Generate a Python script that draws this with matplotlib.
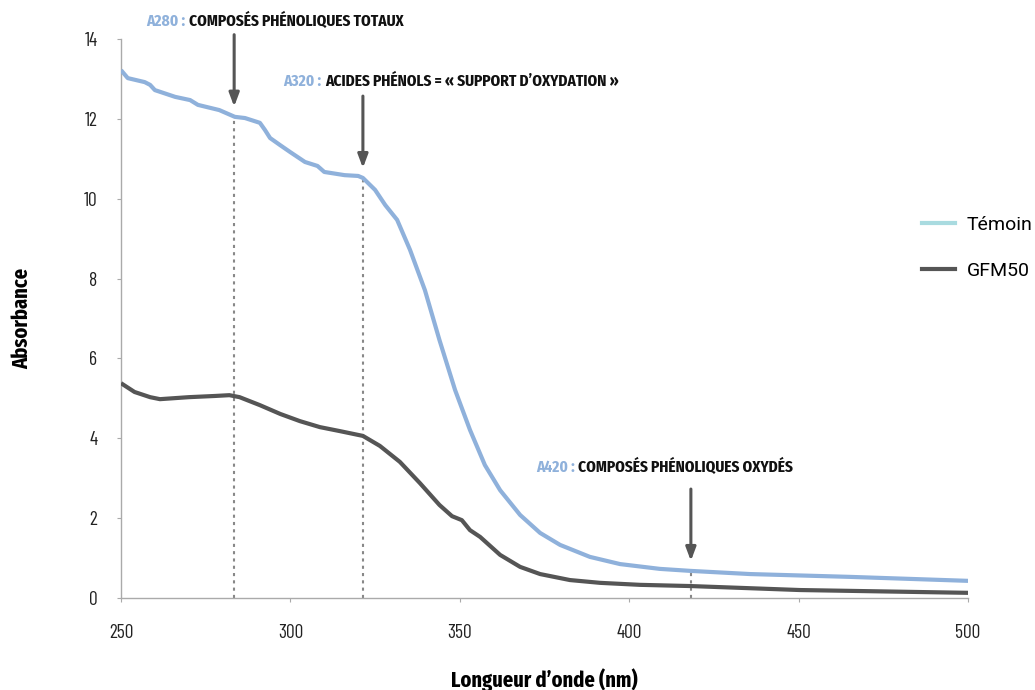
import matplotlib
matplotlib.use("Agg")
import matplotlib.pyplot as plt
from matplotlib import font_manager as fm
from matplotlib.lines import Line2D
import numpy as np

# Témoin (control) absorbance spectrum
temoin_nm = [250, 252, 257, 258.6, 260, 266, 270.4, 272.7, 279, 283.6, 286.6, 291,
             292.5, 294, 297, 299.9, 304.3, 308, 310, 316, 320, 321.4, 325, 328,
             331.5, 335.3, 339.7, 344, 348.6, 353, 357.4, 361.9, 367.8, 373.7,
             379.6, 388.4, 397.3, 409, 418, 435.7, 465, 500]
temoin_abs = [13.22, 13.02, 12.92, 12.85, 12.72, 12.55, 12.47, 12.35, 12.22, 12.05,
              12.02, 11.9, 11.72, 11.52, 11.34, 11.17, 10.92, 10.82, 10.67, 10.59,
              10.57, 10.52, 10.22, 9.84, 9.47, 8.72, 7.71, 6.46, 5.21, 4.21, 3.33,
              2.70, 2.08, 1.63, 1.33, 1.03, 0.85, 0.73, 0.68, 0.60, 0.53, 0.43]

# GFM50 absorbance spectrum
gfm_nm = [250, 254, 258.6, 261.5, 270, 277.7, 282, 285, 291, 297, 302.8, 308.7,
          314.6, 321.4, 326.4, 332.3, 338.2, 344, 347.7, 350.6, 353, 356, 361.9,
          367.8, 373.7, 382.5, 391.4, 403.2, 418, 450.4, 500]
gfm_abs = [5.38, 5.16, 5.03, 4.98, 5.03, 5.06, 5.08, 5.03, 4.83, 4.61, 4.43, 4.28,
           4.18, 4.06, 3.81, 3.41, 2.88, 2.33, 2.05, 1.95, 1.70, 1.53, 1.08, 0.78,
           0.60, 0.45, 0.38, 0.33, 0.30, 0.20, 0.13]

# annotated wavelengths
marks_nm = [283.4, 321.4, 418.2]
mark_codes = ["A280 : ", "A320 : ", "A420 : "]
mark_texts = ["COMPOSÉS PHÉNOLIQUES TOTAUX",
              "ACIDES PHÉNOLS = « SUPPORT D’OXYDATION »",
              "COMPOSÉS PHÉNOLIQUES OXYDÉS"]
label_x = [257.5, 298.0, 372.5]
label_y = [14.45, 12.95, 3.28]

BLUE = "#8fb1db"
DARK = "#555555"
AXIS = "#aaaaaa"

installed = {f.name for f in fm.fontManager.ttflist}


def pick(*names):
    fams = [n for n in names if n in installed]
    return fams + ["DejaVu Sans"]


TICK_FONT = pick("Barlow Condensed", "Fira Sans Extra Condensed", "Oswald")
BOLD_FONT = pick("Fira Sans Extra Condensed", "Barlow Condensed", "Oswald")
LEG_FONT = pick("Roboto", "Inter")

fig = plt.figure(figsize=(10.35, 6.9), dpi=100)
ax = fig.add_axes([0.1169, 0.1333, 0.8184, 0.8102])

ax.plot(temoin_nm, temoin_abs, color=BLUE, lw=3, solid_capstyle="butt", zorder=3)
ax.plot(gfm_nm, gfm_abs, color=DARK, lw=3, solid_capstyle="butt", zorder=3)

ax.set_xlim(250, 500)
ax.set_ylim(0, 14)
ax.set_xticks(range(250, 501, 50))
ax.set_yticks(range(0, 15, 2))

for s in ["top", "right"]:
    ax.spines[s].set_visible(False)
for s in ["left", "bottom"]:
    ax.spines[s].set_color(AXIS)
    ax.spines[s].set_linewidth(1)
ax.tick_params(colors=AXIS, labelcolor="#222222", labelsize=14, length=3)
ax.tick_params(axis="x", pad=16)
ax.tick_params(axis="y", pad=14)
for lbl in ax.get_xticklabels() + ax.get_yticklabels():
    lbl.set_family(TICK_FONT)

ax.set_xlabel("Longueur d’onde (nm)", fontsize=16, fontweight="bold",
              family=BOLD_FONT, va="center")
ax.xaxis.set_label_coords(0.5, -0.146)
ax.set_ylabel("Absorbance", fontsize=16, fontweight="bold", family=BOLD_FONT,
              va="center")
ax.yaxis.set_label_coords(-0.117, 0.5)

for x, code, txt, lx, ly in zip(marks_nm, mark_codes, mark_texts, label_x, label_y):
    top = float(np.interp(x, temoin_nm, temoin_abs))
    ax.plot([x, x], [0, top], ls=(0, (1.5, 2)), color="#888888", lw=1.5, zorder=2)
    ax.annotate("", xy=(x, top + 0.25), xytext=(x, top + 2.05),
                arrowprops=dict(arrowstyle="-|>,head_width=0.3,head_length=0.8",
                                color=DARK, lw=2.2, shrinkA=0, shrinkB=0),
                zorder=4, annotation_clip=False)
    t1 = ax.text(lx, ly, code, color=BLUE, fontsize=12, fontweight="bold",
                 va="center", ha="left", clip_on=False, family=BOLD_FONT)
    ax.annotate(txt, xy=(1, 0.5), xycoords=t1, va="center", ha="left",
                fontsize=12, fontweight="bold", color="#111111",
                annotation_clip=False, family=BOLD_FONT)

handles = [Line2D([], [], color="#a9dbe0", lw=3),
           Line2D([], [], color=DARK, lw=3)]
fig.legend(handles, ["Témoin", "GFM50"], loc="center left",
           bbox_to_anchor=(0.883, 0.641), frameon=False, borderaxespad=0,
           prop=dict(family=LEG_FONT, size=14),
           handlelength=1.7, labelspacing=1.45, handletextpad=0.6)

fig.savefig("out.png", dpi=100)
